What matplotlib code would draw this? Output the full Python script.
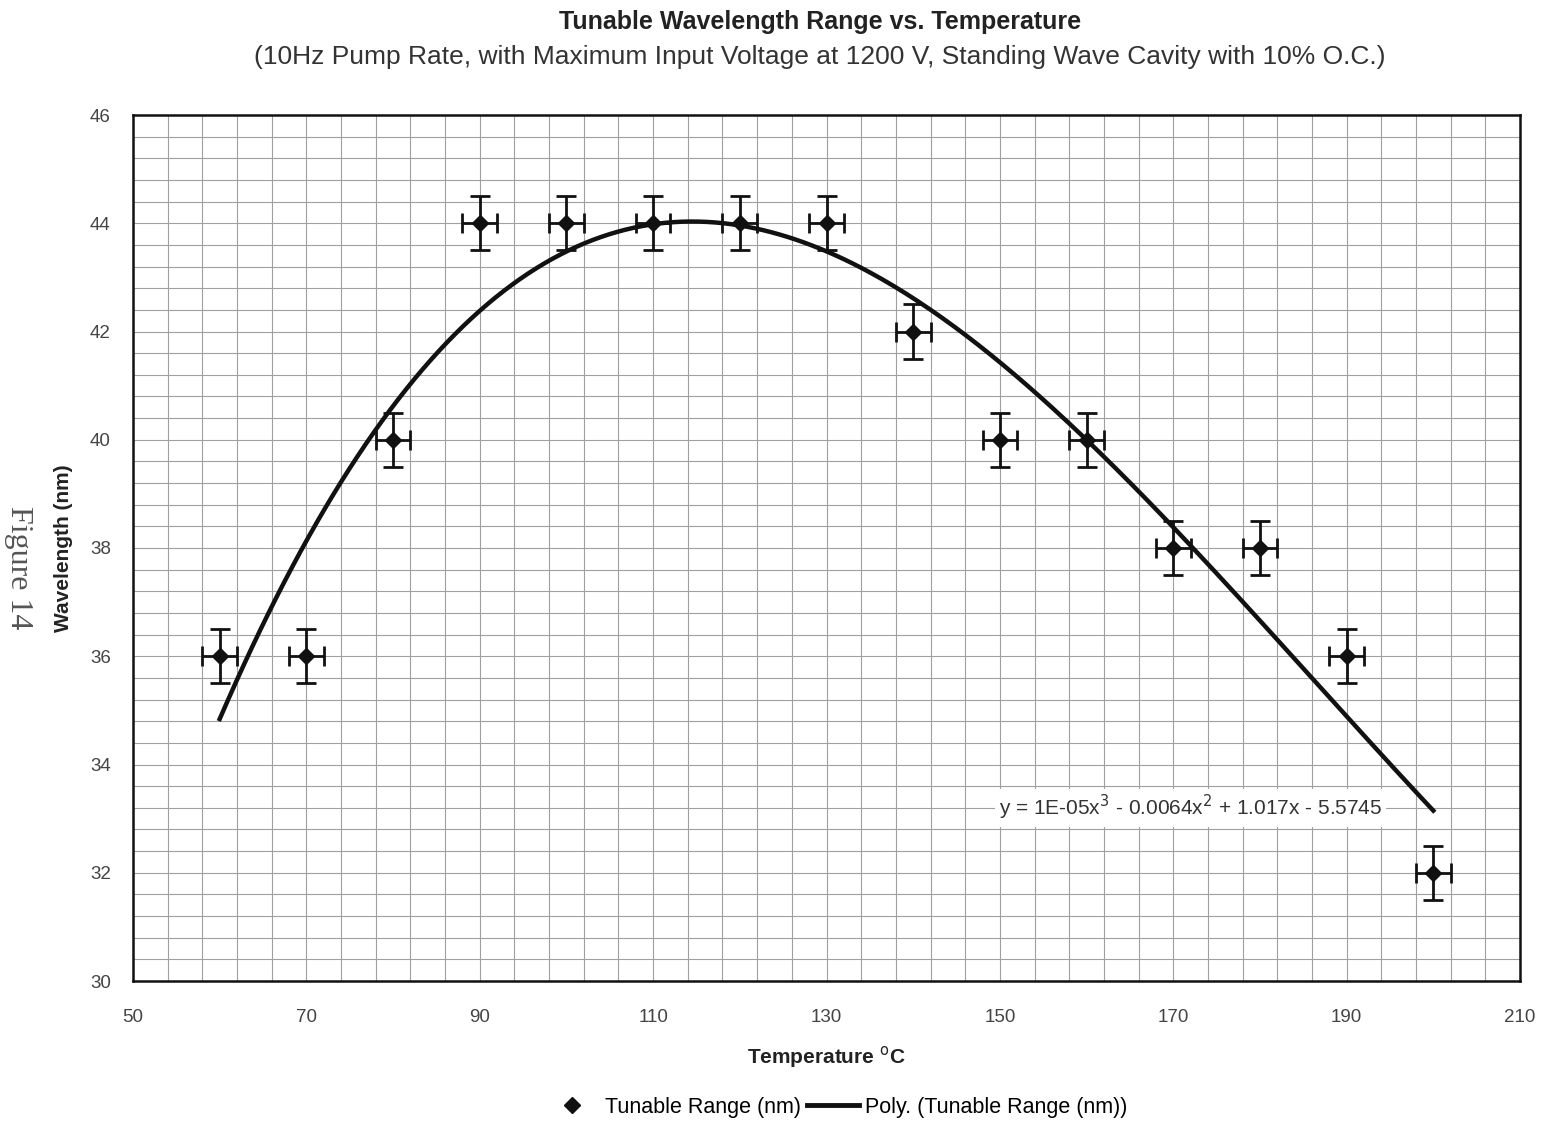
import numpy as np
import matplotlib.pyplot as plt
from matplotlib.lines import Line2D

plt.rcParams['font.family'] = ['Liberation Sans', 'DejaVu Sans']

# Measured tunable range at each crystal temperature
temperature = [60, 70, 80, 90, 100, 110, 120, 130, 140, 150, 160, 170, 180, 190, 200]
tunable_range = [36, 36, 40, 44, 44, 44, 44, 44, 42, 40, 40, 38, 38, 36, 32]
temp_err = 2.0
range_err = 0.5

# 3rd order polynomial trendline through the data
coef = np.polyfit(temperature, tunable_range, 3)
xfit = np.linspace(min(temperature), max(temperature), 300)
yfit = np.polyval(coef, xfit)

fig = plt.figure(figsize=(15.47, 11.24), dpi=100)
ax = fig.add_axes([133 / 1547, 1 - 981 / 1124, (1520 - 133) / 1547, (981 - 115) / 1124])

ax.set_xlim(50, 210)
ax.set_ylim(30, 46)
ax.set_xticks(np.arange(50, 211, 20))
ax.set_xticks(np.arange(50, 211, 4), minor=True)
ax.set_yticks(np.arange(30, 46.1, 2))
ax.set_yticks(np.arange(30, 46.1, 0.4), minor=True)
ax.grid(which='both', color='#a0a0a0', linewidth=0.8)
ax.set_axisbelow(True)
ax.tick_params(which='both', length=0, labelsize=13.5, labelcolor='#444444')
ax.tick_params(axis='x', pad=20)
ax.tick_params(axis='y', pad=16)
for s in ax.spines.values():
    s.set_linewidth(1.8)
    s.set_color('#111111')

ax.errorbar(temperature, tunable_range, xerr=temp_err, yerr=range_err,
            fmt='D', color='#111111', markersize=8, elinewidth=2.0,
            capsize=7, capthick=2.0, zorder=3)
ax.plot(xfit, yfit, color='#111111', linewidth=3.2, zorder=4)

ax.text(172, 33.2, r'y = 1E-05x$^3$ - 0.0064x$^2$ + 1.017x - 5.5745',
        fontsize=15, color='#333333', ha='center', va='center',
        bbox=dict(facecolor='white', edgecolor='none', pad=3), zorder=5)

ax.set_xlabel('Temperature $^{\\mathrm{o}}$C', fontsize=15, fontweight='bold',
              labelpad=13, color='#222222')
ax.set_ylabel('Wavelength (nm)', fontsize=15, fontweight='bold', labelpad=12, color='#222222')

fig.text(0.53, 1 - 22 / 1124, 'Tunable Wavelength Range vs. Temperature',
         ha='center', va='center', fontsize=18, fontweight='bold', color='#222222')
fig.text(0.53, 1 - 57 / 1124,
         '(10Hz Pump Rate, with Maximum Input Voltage at 1200 V, Standing Wave Cavity with 10% O.C.)',
         ha='center', va='center', fontsize=19, color='#333333')
fig.text(18 / 1547, 1 - 568 / 1124, 'Figure 14', rotation=270, ha='center', va='center',
         fontsize=23, family='Liberation Serif', color='#555555')

handles = [Line2D([], [], linestyle='none', marker='D', color='#111111', markersize=8),
           Line2D([], [], color='#111111', linewidth=3.5)]
labels = ['Tunable Range (nm)', 'Poly. (Tunable Range (nm))']
fig.legend(handles, labels, loc='center', bbox_to_anchor=(0.541, 1 - 1107 / 1124), ncol=2,
           frameon=False, fontsize=15.5, handlelength=2.4, columnspacing=0.3, handletextpad=0.3)

fig.savefig('out.png', dpi=100)
